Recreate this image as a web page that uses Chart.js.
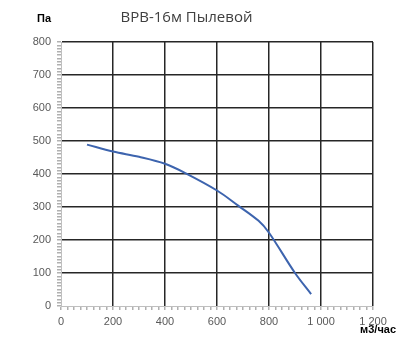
<!DOCTYPE html>
<html>
<head>
<meta charset="utf-8">
<script src="https://cdn.jsdelivr.net/npm/chart.js@4"></script>
<style>
  html, body { margin: 0; padding: 0; background: #fff; }
  #wrap { width: 400px; height: 362px; position: relative; }
</style>
</head>
<body>
<div id="wrap"><canvas id="grafik"></canvas></div>
<script>
const titulo = 'ВРВ-16м Пылевой';
const rotuloY = 'Па';
const rotuloX = 'м3/час';
// расход, м3/час
const rashod = [100, 200, 300, 400, 480, 600, 680, 760, 800, 900, 962];
// давление, Па
const davlenie = [489, 468, 452, 431, 402, 350, 305, 258, 222, 100, 36];

const fmt = v => v.toLocaleString('ru-RU').replace(/\s/g, ' ');

const podpisi = {
  id: 'podpisi',
  afterDraw(chart) {
    const c = chart.ctx;
    c.save();
    c.fillStyle = '#000';
    c.font = 'bold 11px "Liberation Sans", sans-serif';
    c.textBaseline = 'middle';
    c.textAlign = 'left';
    c.fillText(rotuloY, 37, 19);
    c.textAlign = 'right';
    c.fillText(rotuloX, 396, 330);
    c.restore();
  }
};

new Chart(document.getElementById('grafik'), {
  type: 'line',
  data: {
    datasets: [{
      data: rashod.map((x, i) => ({ x, y: davlenie[i] })),
      borderColor: '#3D64AE',
      borderWidth: 2,
      pointRadius: 0,
      tension: 0.35,
      fill: false
    }]
  },
  options: {
    responsive: true,
    maintainAspectRatio: false,
    animation: false,
    layout: { padding: { top: 0, right: 27, bottom: 0, left: 0 } },
    plugins: {
      legend: { display: false },
      tooltip: { enabled: false },
      title: {
        display: true,
        text: titulo,
        color: '#404040',
        font: { family: '"Open Sans", sans-serif', size: 15, weight: 'normal' },
        padding: { top: 9, bottom: 15 }
      }
    },
    scales: {
      x: {
        type: 'linear',
        min: 0, max: 1200,
        afterFit(s) { s.height = 56; },
        ticks: {
          stepSize: 25,
          autoSkip: false,
          maxRotation: 0,
          padding: 5,
          color: '#595959',
          font: { family: '"Liberation Sans", sans-serif', size: 11 },
          callback: v => v % 200 === 0 ? fmt(v) : ''
        },
        grid: {
          color: c => (c.tick && c.tick.value % 200 === 0 && c.tick.value !== 0) ? '#262626' : 'transparent',
          lineWidth: 1.5,
          tickColor: '#b0b0b0',
          tickLength: 4,
          drawTicks: true
        },
        border: { color: '#bfbfbf', width: 1 }
      },
      y: {
        min: 0, max: 800,
        afterFit(s) { s.width = 61; },
        ticks: {
          stepSize: 10,
          autoSkip: false,
          padding: 6,
          color: '#595959',
          font: { family: '"Liberation Sans", sans-serif', size: 11 },
          callback: v => v % 100 === 0 ? v : ''
        },
        grid: {
          color: c => (c.tick && c.tick.value % 100 === 0 && c.tick.value !== 0) ? '#262626' : 'transparent',
          lineWidth: 1.5,
          tickColor: '#b0b0b0',
          tickLength: 4
        },
        border: { color: '#bfbfbf', width: 1 }
      }
    }
  },
  plugins: [podpisi]
});
</script>
</body>
</html>
